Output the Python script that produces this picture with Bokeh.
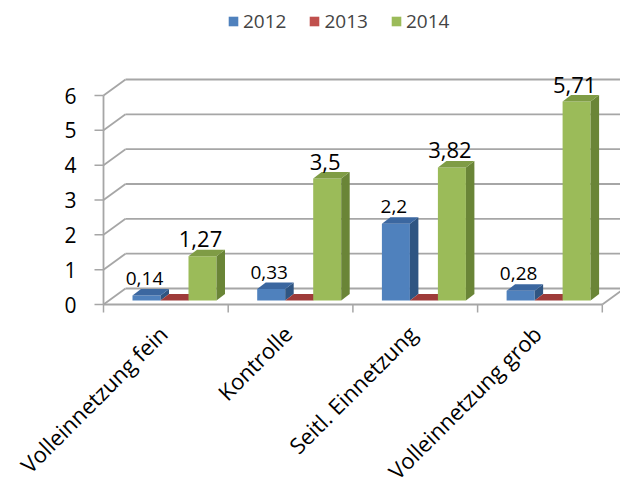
import math
from bokeh.plotting import figure
from bokeh.models import Range1d, Legend, LegendItem, ColumnDataSource, LabelSet
from bokeh.core.properties import value
from bokeh.embed import file_html
from bokeh.resources import INLINE

# ---- data ----
categories = ["Volleinnetzung fein", "Kontrolle", "Seitl. Einnetzung", "Volleinnetzung grob"]
years = ["2012", "2013", "2014"]
v2012 = [0.14, 0.33, 2.2, 0.28]
v2013 = [0.0, 0.0, 0.0, 0.0]
v2014 = [1.27, 3.5, 3.82, 5.71]
y_ticks = [0, 1, 2, 3, 4, 5, 6]
y_tick_labels = ["0", "1", "2", "3", "4", "5", "6"]

series = [v2012, v2013, v2014]
show_labels = [True, False, True]
label_sizes = ["19px", "19px", "22px"]
front_colors = ["#4f81bd", "#c0504d", "#9bbb59"]
top_colors = ["#3b67a0", "#9e3b39", "#7f9c45"]
side_colors = ["#2f5582", "#86302e", "#6a8537"]

FONT = "Open Sans"

# ---- layout (pixels) ----
W, H = 620, 489
LEFT = 103        # pixel column of the value axis
PX_X = 124.7      # pixels per category
PX_Y = 34.83      # pixels per value unit
ZERO_Y = 304      # pixel row of value 0

x_start = -LEFT / PX_X
x_end = (W - LEFT) / PX_X
y_top = ZERO_Y / PX_Y
y_bot = -(H - ZERO_Y) / PX_Y

WALL_DX = 22 / PX_X
WALL_DY = 16 / PX_Y
BAR_DX = 8.5 / PX_X
BAR_DY = 6.5 / PX_Y
BAR_W = 28 / PX_X
GROUP_OFF = 29 / PX_X
BASE = 4 / PX_Y
n = len(categories)

p = figure(width=W, height=H, output_backend="svg", toolbar_location=None,
           x_range=Range1d(x_start, x_end), y_range=Range1d(y_bot, y_top),
           x_axis_location=None, y_axis_location=None, min_border_left=0, min_border_right=0,
           min_border_top=0, min_border_bottom=0)
p.outline_line_color = None
p.xgrid.visible = False
p.ygrid.visible = False

GRID = "#a6a6a6"
# back wall / side wall gridlines
gx0, gy0, gx1, gy1 = [], [], [], []
for k in y_ticks:
    gx0 += [0, WALL_DX]
    gy0 += [k, k + WALL_DY]
    gx1 += [WALL_DX, n + WALL_DX]
    gy1 += [k + WALL_DY, k + WALL_DY]
# floor front edge, right edge, left axis line
gx0 += [0, n, 0]
gy0 += [0, 0, 0]
gx1 += [n, n + WALL_DX, 0]
gy1 += [0, WALL_DY, y_ticks[-1]]
p.segment(gx0, gy0, gx1, gy1, line_color=GRID, line_width=1.8)

# value-axis ticks and labels
p.segment([-9 / PX_X] * len(y_ticks), y_ticks, [0] * len(y_ticks), y_ticks,
          line_color=GRID, line_width=1.5)
p.text([-27 / PX_X] * len(y_ticks), y_ticks, text=y_tick_labels, text_align="right",
       text_baseline="middle", text_font=value(FONT), text_font_size="21px", text_color="black")

# category ticks
cx = list(range(n + 1))
p.segment(cx, [0] * len(cx), cx, [-8 / PX_Y] * len(cx), line_color=GRID, line_width=1.5)

# bars
fronts = []
for s, vals in enumerate(series):
    l, r, b, t = [], [], [], []
    top_xs, top_ys, side_xs, side_ys = [], [], [], []
    for i, v in enumerate(vals):
        x0 = i + GROUP_OFF + s * BAR_W
        x1 = x0 + BAR_W
        y0 = BASE
        y1 = BASE + v
        l.append(x0); r.append(x1); b.append(y0); t.append(y1)
        top_xs.append([x0, x1, x1 + BAR_DX, x0 + BAR_DX])
        top_ys.append([y1, y1, y1 + BAR_DY, y1 + BAR_DY])
        side_xs.append([x1, x1 + BAR_DX, x1 + BAR_DX, x1])
        side_ys.append([y0, y0 + BAR_DY, y1 + BAR_DY, y1])
    fr = p.quad(left=l, right=r, bottom=b, top=t, fill_color=front_colors[s], line_color=None)
    p.patches(side_xs, side_ys, fill_color=side_colors[s], line_color=None)
    p.patches(top_xs, top_ys, fill_color=top_colors[s], line_color=None)
    fronts.append(fr)

# value labels
for s, vals in enumerate(series):
    if not show_labels[s]:
        continue
    xs = [i + GROUP_OFF + s * BAR_W + BAR_W / 2 - 2 / PX_X for i in range(n)]
    ys = [BASE + v + 17 / PX_Y for v in vals]
    txt = [("%g" % v).replace(".", ",") for v in vals]
    p.text(xs, ys, text=txt, text_align="center", text_baseline="alphabetic",
           text_font=value(FONT), text_font_size=label_sizes[s], text_color="black")

# category labels
cat_src = ColumnDataSource(dict(
    x=[i + 0.5 - 3 / PX_X for i in range(n)],
    y=[-25 / PX_Y] * n,
    text=categories,
))
cat_labels = LabelSet(x="x", y="y", text="text", source=cat_src, angle=math.pi / 4,
                      text_align="right", text_baseline="middle",
                      text_font=value(FONT), text_font_size=value("22px"), text_color="black")
p.add_layout(cat_labels)

legend = Legend(items=[LegendItem(label=years[s], renderers=[fronts[s]]) for s in range(3)],
                orientation="horizontal", location=(227, 455), glyph_width=12, glyph_height=12,
                label_standoff=4, spacing=22, padding=0, margin=0, border_line_color=None,
                background_fill_alpha=0, label_text_font=FONT, label_text_font_size="19px",
                label_height=20)
p.add_layout(legend)

open("out.html", "w").write(file_html(p, INLINE))
